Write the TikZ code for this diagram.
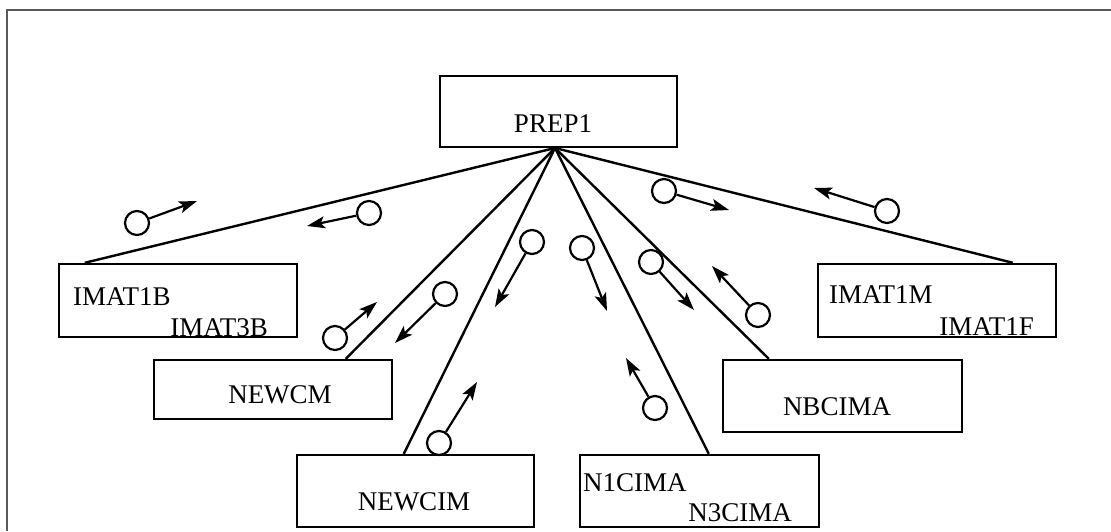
\documentclass[tikz,border=0pt]{standalone}
\usepackage{fontspec}
\setmainfont{Liberation Serif}
\usetikzlibrary{arrows.meta,calc}
\begin{document}
\begin{tikzpicture}[x=1pt,y=-1pt,
  box/.style={draw,line width=2.4pt,minimum width=#1,inner sep=0pt},
  lbl/.style={font=\fontsize{27}{27}\selectfont,inner sep=0pt},
  conn/.style={line width=2.4pt},
  ball/.style={draw,circle,line width=2.2pt,minimum size=24pt,inner sep=0pt},
  arr/.style={line width=2.2pt,-{Stealth[length=18pt,width=12pt,inset=4pt]}},
  frame/.style={line width=1.8pt,gray!70!black}]
\useasboundingbox (0,0) rectangle (1111,531);
\draw[frame] (7,531) -- (7,10) -- (1111,10);
% boxes
\node[box=237pt,minimum height=71pt] (prep) at (558.5,111.5) {};
\node[lbl] (tprep) at (553,124) {PREP1};
\node[box=238pt,minimum height=73pt] (imat1b) at (178,300.5) {};
\node[lbl,anchor=west] (t1b) at (73,297) {IMAT1B};
\node[lbl,anchor=east] (t3b) at (268,328) {IMAT3B};
\node[box=238pt,minimum height=59pt] (newcm) at (273,389.5) {};
\node[lbl] (tnewcm) at (280,395) {NEWCM};
\node[box=237pt,minimum height=72pt] (newcim) at (415.5,491) {};
\node[lbl] (tnewcim) at (414,502) {NEWCIM};
\node[box=239pt,minimum height=72pt] (n1cima) at (699.5,491) {};
\node[lbl,anchor=west] (tn1) at (583,483) {N1CIMA};
\node[lbl,anchor=east] (tn3) at (792,513) {N3CIMA};
\node[box=239pt,minimum height=72pt] (nbcima) at (842.5,396) {};
\node[lbl] (tnb) at (837,407) {NBCIMA};
\node[box=238pt,minimum height=73pt] (imat1m) at (937,300.5) {};
\node[lbl,anchor=west] (t1m) at (829,295) {IMAT1M};
\node[lbl,anchor=east] (t1f) at (1034,327) {IMAT1F};
% connectors
\coordinate (apex) at (555,148);
\draw[conn] (apex) -- ($(imat1b.north west)+(27,0)$);
\draw[conn] (apex) -- ($(newcm.north west)+(193,0)$);
\draw[conn] (apex) -- ($(newcim.north west)+(108,0)$);
\draw[conn] (apex) -- ($(n1cima.north west)+(130,0)$);
\draw[conn] (apex) -- ($(nbcima.north west)+(47,0)$);
\draw[conn] (apex) -- ($(imat1m.north west)+(196,0)$);
% lollipops
\node[ball] (c1) at (137,223) {};  \coordinate (e1) at (197,201);
\node[ball] (c2) at (369,213) {};  \coordinate (e2) at (307,226);
\node[ball] (c3) at (532,242) {};  \coordinate (e3) at (495,307);
\node[ball] (c4) at (445,294) {};  \coordinate (e4) at (395,343);
\node[ball] (c5) at (335,338) {};  \coordinate (e5) at (377,302);
\node[ball] (c6) at (439,443) {};  \coordinate (e6) at (477,382);
\node[ball] (c7) at (664,191) {};  \coordinate (e7) at (729,210);
\node[ball] (c8) at (887,211) {};  \coordinate (e8) at (814,188);
\node[ball] (c9) at (582,248) {};  \coordinate (e9) at (607,311);
\node[ball] (c10) at (651,262) {}; \coordinate (e10) at (694,310);
\node[ball] (c11) at (758,315) {}; \coordinate (e11) at (712,266);
\node[ball] (c12) at (655,408) {}; \coordinate (e12) at (626,358);
\foreach \i in {1,...,12} {\draw[arr] (c\i) -- (e\i);}
\end{tikzpicture}
\end{document}
